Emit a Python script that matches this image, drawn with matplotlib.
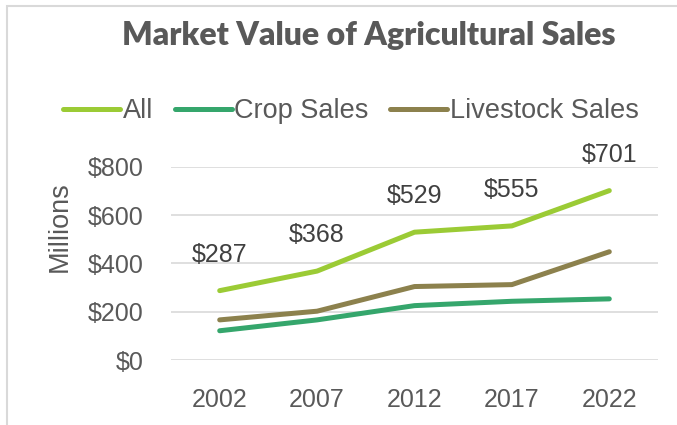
import matplotlib.pyplot as plt
from matplotlib.patches import Rectangle

# data (millions of dollars)
years = ['2002', '2007', '2012', '2017', '2022']
all_sales = [287, 368, 529, 555, 701]
crop_sales = [121, 166, 225, 243, 253]
livestock_sales = [166, 202, 304, 312, 448]
y_ticks = [0, 200, 400, 600, 800]

plt.rcParams['font.family'] = ['Liberation Sans', 'DejaVu Sans']

fig = plt.figure(figsize=(6.77, 4.25), dpi=100)
ax = fig.add_axes([171/677, 1 - 360/425, (658 - 171)/677, (360 - 166.7)/425])

x = range(len(years))
ax.plot(x, all_sales, color='#9BCB35', lw=3.6, solid_capstyle='round', label='All', zorder=3)
ax.plot(x, crop_sales, color='#35A66C', lw=3.6, solid_capstyle='round', label='Crop Sales', zorder=3)
ax.plot(x, livestock_sales, color='#8C814D', lw=3.6, solid_capstyle='round', label='Livestock Sales', zorder=3)

# data labels above the "All" line
for i, v in enumerate(all_sales):
    ax.annotate(f'${v}', (i, v), xytext=(0, 26), textcoords='offset points',
                ha='center', va='center', fontsize=18, color='#404040', annotation_clip=False)

ax.set_xlim(-0.5, len(years) - 0.5)
ax.set_ylim(0, 800)
ax.set_xticks(list(x))
ax.set_xticklabels(years)
ax.set_yticks(y_ticks)
ax.set_yticklabels([f'${t}' for t in y_ticks])
ax.tick_params(length=0, labelsize=18, labelcolor='#595959')
ax.tick_params(axis='y', pad=20)
ax.tick_params(axis='x', pad=20)
ax.grid(axis='y', color='#D9D9D9', lw=1.2)
ax.set_axisbelow(True)
for s in ax.spines.values():
    s.set_visible(False)

fig.text(60/677, 1 - 227/425, 'Millions', rotation=90, ha='center', va='center',
         fontsize=19.5, color='#595959')
fig.text(368.5/677, 1 - 35/425, 'Market Value of Agricultural Sales', ha='center', va='center',
         fontsize=23, fontweight='heavy', color='#595959', family=['Lato', 'DejaVu Sans'])

fig.legend(loc='center', bbox_to_anchor=(351/677, 1 - 111/425), ncol=3, frameon=False,
           fontsize=19.5, labelcolor='#595959', handlelength=2.1, handletextpad=0.1,
           columnspacing=0.8, borderpad=0)

# light gray chart border
fig.patches.append(Rectangle((7/677, -0.1), 1.2, 1.1 - 6/425, transform=fig.transFigure,
                             fill=False, edgecolor='#D9D9D9', lw=1.5))

fig.savefig('out.png', dpi=100)
